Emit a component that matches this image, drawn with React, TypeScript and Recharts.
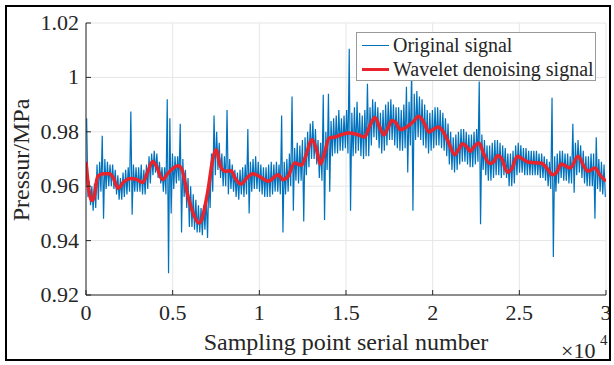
import { LineChart, Line, XAxis, YAxis, CartesianGrid } from 'recharts'

const BLUE = '#0072BD'
const RED = '#E8232B'
const AXIS = '#262626'
const GRID = '#e6e6e6'
const FONT = '"Liberation Serif", "Times New Roman", serif'

const xTicks = [0, 5000, 10000, 15000, 20000, 25000, 30000]
const yTicks = [0.92, 0.94, 0.96, 0.98, 1.0, 1.02]

// original signal: max / min inside each bin of 150 samples
const binSize = 150
const signalHigh = [
  0.985, 0.962, 0.960, 0.961, 0.968, 0.969, 0.9785, 0.970, 0.969, 0.968, 0.968, 0.966, 0.964, 0.963, 0.965, 0.966, 0.967, 0.9875, 0.968, 0.967,
  0.967, 0.968, 0.966, 0.968, 0.971, 0.972, 0.973, 0.972, 0.969, 0.967, 0.967, 0.992, 0.985, 0.972, 0.971, 0.971, 0.983, 0.970, 0.966, 0.963,
  0.960, 0.957, 0.955, 0.953, 0.952, 0.953, 0.956, 0.963, 0.972, 0.986, 0.980, 0.976, 0.972, 0.971, 0.988, 0.970, 0.968, 0.966, 0.965, 0.966,
  0.967, 0.968, 0.981, 0.969, 0.970, 0.971, 0.969, 0.968, 0.967, 0.967, 0.968, 0.969, 0.968, 0.969, 0.968, 0.986, 0.969, 0.970, 0.972, 0.993,
  0.974, 0.976, 0.975, 0.977, 0.978, 0.980, 0.983, 0.984, 0.981, 0.977, 0.976, 0.9936, 0.980, 0.994, 0.984, 0.985, 0.986, 0.988, 0.985, 0.986,
  0.988, 1.0105, 0.987, 0.989, 0.991, 0.987, 0.986, 0.988, 0.9977, 0.989, 0.992, 0.991, 0.989, 0.987, 0.988, 0.990, 0.991, 0.992, 0.990, 0.989,
  0.989, 0.988, 0.990, 0.9966, 0.991, 1.003, 0.994, 0.995, 0.993, 0.992, 0.990, 0.988, 0.987, 0.988, 0.989, 0.989, 0.988, 0.987, 0.985, 0.983,
  0.980, 0.978, 0.979, 0.980, 0.981, 0.981, 0.980, 0.979, 0.979, 0.980, 0.981, 0.9985, 0.979, 0.977, 0.975, 0.975, 0.976, 0.977, 0.977, 0.976,
  0.975, 0.974, 0.972, 0.972, 0.973, 0.975, 0.976, 0.975, 0.974, 0.974, 0.973, 0.973, 0.973, 0.973, 0.972, 0.972, 0.971, 0.970, 0.969, 0.9925,
  0.971, 0.972, 0.973, 0.973, 0.972, 0.972, 0.971, 0.983, 0.976, 0.977, 0.975, 0.973, 0.971, 0.971, 0.972, 0.972, 0.978, 0.970, 0.969, 0.968,
]
const signalLow = [
  0.956, 0.953, 0.951, 0.952, 0.955, 0.958, 0.948, 0.959, 0.960, 0.960, 0.959, 0.957, 0.955, 0.955, 0.956, 0.957, 0.958, 0.9495, 0.958, 0.958,
  0.958, 0.957, 0.957, 0.959, 0.961, 0.964, 0.965, 0.963, 0.961, 0.958, 0.957, 0.928, 0.950, 0.959, 0.961, 0.962, 0.943, 0.956, 0.952, 0.945,
  0.945, 0.944, 0.943, 0.943, 0.942, 0.944, 0.941, 0.952, 0.958, 0.964, 0.966, 0.963, 0.960, 0.960, 0.957, 0.959, 0.958, 0.956, 0.955, 0.957,
  0.956, 0.957, 0.950, 0.958, 0.959, 0.959, 0.958, 0.957, 0.956, 0.956, 0.956, 0.957, 0.958, 0.958, 0.957, 0.943, 0.957, 0.958, 0.960, 0.951,
  0.962, 0.961, 0.962, 0.947, 0.964, 0.967, 0.970, 0.970, 0.968, 0.963, 0.962, 0.9476, 0.966, 0.958, 0.971, 0.972, 0.972, 0.973, 0.973, 0.974,
  0.972, 0.951, 0.971, 0.972, 0.973, 0.971, 0.970, 0.971, 0.971, 0.975, 0.978, 0.977, 0.974, 0.972, 0.973, 0.975, 0.977, 0.977, 0.975, 0.974,
  0.973, 0.973, 0.974, 0.965, 0.975, 0.951, 0.977, 0.978, 0.977, 0.975, 0.974, 0.972, 0.973, 0.974, 0.975, 0.975, 0.974, 0.973, 0.971, 0.968,
  0.966, 0.965, 0.966, 0.968, 0.969, 0.969, 0.968, 0.967, 0.967, 0.968, 0.969, 0.946, 0.966, 0.964, 0.962, 0.962, 0.963, 0.964, 0.964, 0.963,
  0.964, 0.963, 0.960, 0.960, 0.961, 0.964, 0.965, 0.965, 0.964, 0.964, 0.964, 0.964, 0.964, 0.964, 0.963, 0.963, 0.962, 0.960, 0.959, 0.934,
  0.958, 0.961, 0.963, 0.962, 0.962, 0.961, 0.961, 0.9576, 0.964, 0.965, 0.963, 0.961, 0.960, 0.960, 0.960, 0.948, 0.959, 0.958, 0.957, 0.956,
]

// wavelet denoised curve
const denoiseX = [
  0, 180, 340, 450, 680, 1020, 1360, 1580, 1850, 2150, 2600, 2940, 3280, 3570, 3850, 4070, 4410, 4750, 5320, 5540,
  5880, 6220, 6490, 6670, 7010, 7350, 7510, 7760, 8030, 8370, 8600, 8940, 9280, 9615, 10000, 10520, 11090, 11360, 11650, 12040,
  12440, 12670, 13050, 13300, 13530, 13760, 14030, 14370, 14710, 15160, 15610, 16070, 16400, 16670, 16920, 17190, 17420, 17650, 17870, 18140,
  18550, 18890, 19190, 19460, 19800, 20020, 20320, 20590, 20930, 21270, 21490, 21720, 21950, 22170, 22400, 22670, 22960, 23300, 23530, 23760,
  23980, 24320, 24550, 24890, 25230, 25570, 26240, 26580, 26920, 27150, 27420, 27710, 27940, 28390, 28730, 28960, 29370, 29640, 30000,
]
const denoiseY = [
  0.9689, 0.958, 0.9547, 0.9557, 0.9636, 0.9646, 0.9646, 0.963, 0.9592, 0.9614, 0.9628, 0.9624, 0.9614, 0.9655, 0.9691, 0.9673, 0.9624, 0.9649, 0.9675, 0.966,
  0.9563, 0.9495, 0.9465, 0.9477, 0.9575, 0.971, 0.9734, 0.9673, 0.9655, 0.9657, 0.963, 0.9608, 0.963, 0.9646, 0.9636, 0.9618, 0.9642, 0.9624, 0.9636, 0.9685,
  0.9677, 0.971, 0.9771, 0.9734, 0.9682, 0.9722, 0.9777, 0.9781, 0.9789, 0.9796, 0.9791, 0.9781, 0.9826, 0.9853, 0.982, 0.9789, 0.9814, 0.9842, 0.9834, 0.9808,
  0.982, 0.9838, 0.9857, 0.9838, 0.9799, 0.9808, 0.9818, 0.9802, 0.9759, 0.9716, 0.9734, 0.9756, 0.9746, 0.9728, 0.9746, 0.9759, 0.9716, 0.9683, 0.9691, 0.9713,
  0.9701, 0.9651, 0.9663, 0.971, 0.9698, 0.9688, 0.9685, 0.9667, 0.9642, 0.9651, 0.9682, 0.9673, 0.9667, 0.971, 0.9673, 0.9655, 0.9667, 0.9642, 0.9618,
]

// each bin drawn as its max then its min, like a dense trace
const originalData = signalHigh.flatMap((h, i) => [
  { x: i * binSize + 37, v: h },
  { x: i * binSize + 112, v: signalLow[i] },
])
const denoiseData = denoiseX.map((x, i) => ({ x, v: denoiseY[i] }))

const fmtX = (v: number) => String(v / 10000)
const fmtY = (v: number) => String(Number(v.toFixed(2)))

function BottomTick(props: any) {
  const { x, y, payload } = props
  return (
    <g>
      <line x1={x} x2={x} y1={y} y2={y - 5} stroke={AXIS} />
      <text x={x} y={y + 25} textAnchor="middle" fill={AXIS} fontSize={22} fontFamily={FONT}>
        {fmtX(payload.value)}
      </text>
    </g>
  )
}

function TopTick(props: any) {
  const { x, y } = props
  return <line x1={x} x2={x} y1={y} y2={y + 5} stroke={AXIS} />
}

function LeftTick(props: any) {
  const { x, y, payload } = props
  return (
    <g>
      <line x1={x} x2={x + 5} y1={y} y2={y} stroke={AXIS} />
      <text x={x - 7} y={y + 7} textAnchor="end" fill={AXIS} fontSize={22} fontFamily={FONT}>
        {fmtY(payload.value)}
      </text>
    </g>
  )
}

function RightTick(props: any) {
  const { x, y } = props
  return <line x1={x} x2={x - 5} y1={y} y2={y} stroke={AXIS} />
}

function Legend() {
  const row = { display: 'flex', alignItems: 'center', height: 24 }
  return (
    <div
      style={{
        position: 'absolute', left: 356, top: 32, width: 240, height: 49, boxSizing: 'border-box',
        border: '1px solid #9a9a9a', background: '#fff', fontFamily: FONT, fontSize: 20, color: AXIS,
        lineHeight: '24px',
      }}
    >
      <div style={row}>
        <span style={{ display: 'inline-block', width: 27, height: 1, background: BLUE, marginLeft: 5, marginRight: 4 }} />
        Original signal
      </div>
      <div style={row}>
        <span style={{ display: 'inline-block', width: 27, height: 3, background: RED, marginLeft: 5, marginRight: 4 }} />
        Wavelet denoising signal
      </div>
    </div>
  )
}

export default function App() {
  return (
    <div style={{ position: 'relative', width: 614, height: 365, background: '#fff' }}>
      <style>{'body{margin:0}'}</style>
      <LineChart width={614} height={365} data={originalData} margin={{ top: 23, right: 8, bottom: 40, left: 26 }}>
        <CartesianGrid stroke={GRID} />
        <XAxis
          dataKey="x" type="number" domain={[0, 30000]} ticks={xTicks} interval={0} allowDataOverflow
          stroke={AXIS} tickSize={0} tickMargin={0} height={30} tick={<BottomTick />}
          label={{
            content: () => (
              <g fontFamily={FONT} fill={AXIS}>
                <text x={346} y={350} textAnchor="middle" fontSize={24}>Sampling point serial number</text>
                <text x={561} y={358} fontSize={22}>×10</text>
                <text x={600} y={345} fontSize={15}>4</text>
              </g>
            ),
          }}
        />
        <XAxis xAxisId="top" orientation="top" dataKey="x" type="number" domain={[0, 30000]} ticks={xTicks} interval={0}
          stroke={AXIS} tickSize={0} tickMargin={0} height={0} tick={<TopTick />} />
        <YAxis
          type="number" domain={[0.92, 1.02]} ticks={yTicks} interval={0} allowDataOverflow
          stroke={AXIS} tickSize={0} tickMargin={0} width={60} tick={<LeftTick />}
          label={{
            content: () => (
              <text x={29} y={160} transform="rotate(-90, 29, 160)" textAnchor="middle" fontSize={24}
                fontFamily={FONT} fill={AXIS}>Pressur/MPa</text>
            ),
          }}
        />
        <YAxis yAxisId="right" orientation="right" type="number" domain={[0.92, 1.02]} ticks={yTicks} interval={0}
          stroke={AXIS} tickSize={0} tickMargin={0} width={0} tick={<RightTick />} />
        <Line data={originalData} dataKey="v" type="linear" stroke={BLUE} strokeWidth={1.2} dot={false} isAnimationActive={false} />
        <Line data={denoiseData} dataKey="v" type="monotone" stroke={RED} strokeWidth={3.5} dot={false} isAnimationActive={false} />
      </LineChart>
      <Legend />
      <div style={{ position: 'absolute', left: 5, top: 5, right: 3, bottom: 4, border: '2px solid #000', pointerEvents: 'none' }} />
    </div>
  )
}
